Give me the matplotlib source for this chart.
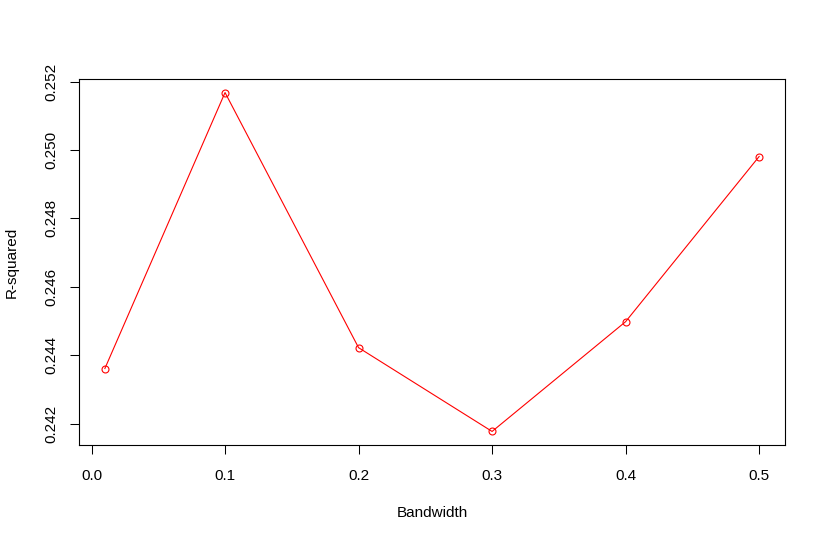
import matplotlib
matplotlib.use("Agg")
import matplotlib.pyplot as plt

bandwidth = [0.01, 0.1, 0.2, 0.3, 0.4, 0.5]
r_squared = [0.24361, 0.25168, 0.24422, 0.24177, 0.24498, 0.24981]
x_ticks = [0.0, 0.1, 0.2, 0.3, 0.4, 0.5]
x_tick_labels = ["0.0", "0.1", "0.2", "0.3", "0.4", "0.5"]
y_ticks = [0.242, 0.244, 0.246, 0.248, 0.250, 0.252]
y_tick_labels = ["0.242", "0.244", "0.246", "0.248", "0.250", "0.252"]

plt.rcParams['font.family'] = ['Liberation Sans', 'DejaVu Sans']
W, H = 826, 543
fig = plt.figure(figsize=(W / 100, H / 100), dpi=100)
ax = fig.add_axes([78.7 / W, 1 - 445 / H, (785.3 - 78.7) / W, (445 - 79) / H])

ax.plot(bandwidth, r_squared, color='#FF0000', linewidth=0.8,
        marker='o', markersize=5, markerfacecolor='none',
        markeredgecolor='#FF0000', markeredgewidth=0.8)

# R-style 4% axis extension
xr = max(bandwidth) - min(bandwidth)
yr = max(r_squared) - min(r_squared)
ax.set_xlim(min(bandwidth) - 0.04 * xr, max(bandwidth) + 0.04 * xr)
ax.set_ylim(min(r_squared) - 0.04 * yr, max(r_squared) + 0.04 * yr)

ax.set_xticks(x_ticks)
ax.set_xticklabels(x_tick_labels)
ax.set_yticks(y_ticks)
ax.set_yticklabels(y_tick_labels, rotation=90, va='center', ha='right')

fs = 11
ax.tick_params(axis='both', direction='out', length=6.5, width=0.75,
               labelsize=fs, color='black', labelcolor='black')
ax.tick_params(axis='x', pad=10.5)
ax.tick_params(axis='y', pad=8.2)
for s in ax.spines.values():
    s.set_linewidth(0.8)
    s.set_color('black')

ax.set_xlabel("Bandwidth", fontsize=fs, va='center')
ax.set_ylabel("R-squared", fontsize=fs, va='center')
ax.xaxis.set_label_coords(0.5, (445 - 513) / (445 - 79))
ax.yaxis.set_label_coords((12 - 78.7) / (785.3 - 78.7), 0.5)

fig.savefig("out.png", dpi=100, facecolor='white')
